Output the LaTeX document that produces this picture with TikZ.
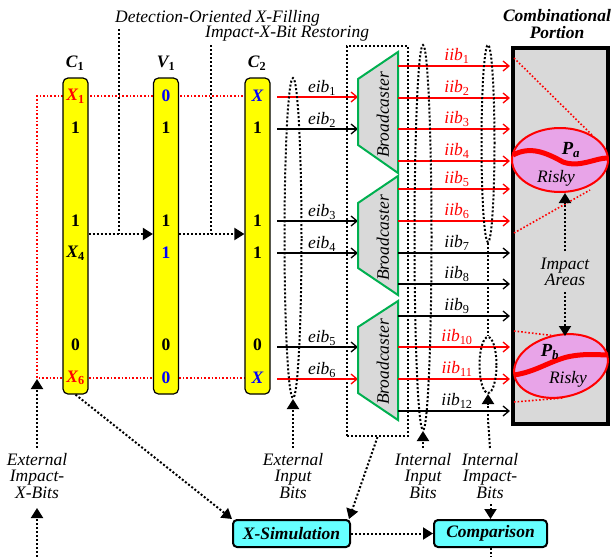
\documentclass[tikz,border=0pt]{standalone}
\usepackage{fontspec}
\setmainfont{Liberation Serif}
\usetikzlibrary{arrows.meta,shapes.geometric}
\definecolor{yel}{RGB}{255,255,0}
\definecolor{grn}{RGB}{0,176,80}
\definecolor{gry}{RGB}{217,217,217}
\definecolor{pnk}{RGB}{232,164,232}
\definecolor{cyn}{RGB}{102,255,255}
\definecolor{blu}{RGB}{0,0,255}
\begin{document}
\begin{tikzpicture}[x=1pt,y=-1pt,
  every node/.style={inner sep=0pt, font=\fontsize{17.5}{16.5}\selectfont\itshape},
  dotln/.style={line width=2pt, dash pattern=on 2pt off 2pt},
  dotarr/.style={dotln, -{Triangle[length=10pt,width=12pt]}},
  rdot/.style={red, line width=1.6pt, dash pattern=on 1.6pt off 2pt},
  sig/.style={line width=1.3pt, -{Straight Barb[length=6pt,width=10pt,line width=1.3pt]}},
  col/.style={draw=black, line width=1.2pt, fill=yel, rounded corners=5pt, minimum width=25, minimum height=316},
  bit/.style={font=\fontsize{17.5}{17}\selectfont\bfseries\upshape},
  bc/.style={draw=grn, fill=gry, line width=2pt},
  lbl/.style={align=center},
  tall/.style={draw, dotln, ellipse},
  risky/.style={ellipse, draw=red, line width=2pt, fill=pnk, minimum width=96, minimum height=64},
  wave/.style={red, line width=5pt},
  cbox/.style={draw=black, line width=2pt, fill=cyn, rounded corners=4pt, minimum height=27, font=\fontsize{17.5}{17}\selectfont\bfseries\itshape}
]
\useasboundingbox (0,0) rectangle (611,557);

% top labels
\node[anchor=west] (dof) at (115,18) {Detection-Oriented X-Filling};
\node[anchor=west] (ixr) at (205,34) {Impact-X-Bit Restoring};

% red dotted impact-X-bit lines (behind columns)
\draw[rdot] (250,96) -- (37,96) -- (37,378) -- (250,378);

% columns
\node[col] (c1) at (75.5,236) {};
\node[col] (v1) at (166,236) {};
\node[col] (c2) at (257.5,236) {};
\node[font=\fontsize{17.5}{17}\selectfont\bfseries\itshape] (lc1) at (75,63) {C\textsubscript{\upshape 1}};
\node[font=\fontsize{17.5}{17}\selectfont\bfseries\itshape] (lv1) at (166,63) {V\textsubscript{\upshape 1}};
\node[font=\fontsize{17.5}{17}\selectfont\bfseries\itshape] (lc2) at (257,63) {C\textsubscript{\upshape 2}};

% C1 bits
\node[bit, red] (c1a) at (75.5,96) {\itshape X\textsubscript{\upshape 1}};
\node[bit] (c1b) at (75.5,128) {1};
\node[bit] (c1c) at (75.5,221) {1};
\node[bit] (c1d) at (75.5,253) {\itshape X\textsubscript{\upshape 4}};
\node[bit] (c1e) at (75.5,345) {0};
\node[bit, red] (c1f) at (75.5,378) {\itshape X\textsubscript{\upshape 6}};
% V1 bits
\node[bit, blu] (v1a) at (166,96) {0};
\node[bit] (v1b) at (166,128) {1};
\node[bit] (v1c) at (166,221) {1};
\node[bit, blu] (v1d) at (166,253) {1};
\node[bit] (v1e) at (166,345) {0};
\node[bit, blu] (v1f) at (166,378) {0};
% C2 bits
\node[bit, blu] (c2a) at (257.5,96) {\itshape X};
\node[bit] (c2b) at (257.5,128) {1};
\node[bit] (c2c) at (257.5,221) {1};
\node[bit] (c2d) at (257.5,253) {1};
\node[bit] (c2e) at (257.5,345) {0};
\node[bit, blu] (c2f) at (257.5,378) {\itshape X};

% process arrows between columns
\coordinate (t1) at (119,29);
\coordinate (t1b) at (119,234);
\coordinate (t2) at (211,45);
\coordinate (t2b) at (211,234);
\draw[dotln] (t1) -- (t1b);
\draw[dotln] (t2) -- (t2b);
\draw[dotarr] (c1.east |- t1b) -- (v1.west |- t1b);
\draw[dotarr] (v1.east |- t2b) -- (c2.west |- t2b);

% External impact X bits
\node[lbl] (extimp) at (37,476) {External\\Impact-\\X-Bits};
\draw[dotarr] (37,448) -- (37,379);
\coordinate (bot1) at (37,557);
\draw[dotarr] (bot1) -- (37,508);

% broadcaster group
\node[draw, dotln, minimum width=61, minimum height=390] (grp) at (377.5,241) {};

% eib lines
\draw[sig, red] (277,97) -- (358,97);
\draw[sig] (277,129) -- (358,129);
\draw[sig] (277,221) -- (358,221);
\draw[sig] (277,253) -- (358,253);
\draw[sig] (277,347) -- (358,347);
\draw[sig, red] (277,379) -- (358,379);
\node (eib1) at (322,88) {eib\textsubscript{\upshape 1}};
\node (eib2) at (322,120) {eib\textsubscript{\upshape 2}};
\node (eib3) at (322,212) {eib\textsubscript{\upshape 3}};
\node (eib4) at (322,244) {eib\textsubscript{\upshape 4}};
\node (eib5) at (322,338) {eib\textsubscript{\upshape 5}};
\node (eib6) at (322,370) {eib\textsubscript{\upshape 6}};

% broadcasters
\draw[bc] (358,79) -- (398,52) -- (398,173) -- (358,145) -- cycle;
\draw[bc] (358,203) -- (398,176) -- (398,295) -- (358,268) -- cycle;
\draw[bc] (358,327) -- (398,301) -- (398,420) -- (358,393) -- cycle;
\node[rotate=90] (b1) at (383,115) {Broadcaster};
\node[rotate=90] (b2) at (383,238) {Broadcaster};
\node[rotate=90] (b3) at (383,362) {Broadcaster};

% combinational portion
\node[font=\fontsize{17.5}{17}\selectfont\bfseries\itshape, align=center] (cp) at (557,24) {Combinational\\Portion};
\node[draw=black, line width=3.5pt, fill=gry, minimum width=95, minimum height=376] (comb) at (560.5,236) {};

% iib lines
\foreach \i/\y/\c in {1/66/red,2/98/red,3/129/red,4/161/red,5/189/red,6/221/red,7/253/black,8/284/black,9/316/black,10/347/red,11/379/red,12/411/black}{
  \draw[sig, \c] (398,\y) -- (510,\y);
  \node[text=\c] (iib\i) at (457,\y-10) {iib\textsubscript{\upshape\i}};
}

% cones in combinational portion
\draw[rdot] (514,58) -- (592,135);
\draw[rdot] (514,233) -- (590,190);
\draw[rdot] (514,331) -- (565,337);
\draw[rdot] (514,402) -- (563,398);

% risky areas
\node[risky] (pa) at (560,160) {};
\draw[wave] (513,155) .. controls (530,146) and (545,152) .. (563,162) .. controls (580,168) and (595,158) .. (607.5,158);
\node[font=\fontsize{18.5}{18}\selectfont\bfseries\itshape] (pat) at (571,150) {P\textsubscript{a}};
\node (par) at (556,178) {Risky};

\node[risky, minimum width=95, minimum height=62, rotate=12] (pb) at (561,366) {};
\draw[wave] (514,375) .. controls (535,372) and (548,362) .. (567,357) .. controls (585,353) and (600,355) .. (608,355);
\node[font=\fontsize{18.5}{18}\selectfont\bfseries\itshape] (pbt) at (550,352) {P\textsubscript{b}};
\node (pbr) at (568,379) {Risky};

\node[align=center, font=\fontsize{17.5}{16.5}\selectfont\itshape] (ia) at (565,272) {Impact\\Areas};
\draw[dotarr] (565,251) -- (565,193);
\draw[dotarr] (565,292) -- (565,336);

% tall grouping ellipses
\node[tall, minimum width=17, minimum height=320] (e1) at (293,238) {};
\node[tall, minimum width=17, minimum height=385] (e2) at (423,237.5) {};
\node[tall, minimum width=13, minimum height=197] (e3) at (488,143.5) {};
\node[tall, minimum width=17, minimum height=56] (e4) at (488,365) {};
\draw[dotln] (e3.south) -- (e4.north);

% bottom labels
\node[lbl] (ein) at (293,476) {External\\Input\\Bits};
\node[lbl] (iin) at (423,476) {Internal\\Input\\Bits};
\node[lbl] (iimp) at (490,476) {Internal\\Impact-\\Bits};
\draw[dotarr] (293,448) -- (e1.south);
\draw[dotarr] (423,448) -- (e2.south);
\draw[dotln] (490,448) -- (488,420);
\draw[dotarr] (488,420) -- (e4.south);

% bottom boxes
\node[cbox, minimum width=117] (xsim) at (291.5,533.5) {X-Simulation};
\node[cbox, minimum width=113] (comp) at (490.5,533.5) {Comparison};
\draw[dotarr] (c1.south) -- (xsim.north west);
\draw[dotarr] (grp.south) -- ([xshift=-2pt]xsim.north east);
\draw[dotarr] (xsim.east) -- (comp.west);
\draw[dotarr] (490.5,504) -- (comp.north);
\coordinate (bot2) at (490.5,557);
\draw[dotln] (comp.south) -- (bot2);
\end{tikzpicture}
\end{document}
